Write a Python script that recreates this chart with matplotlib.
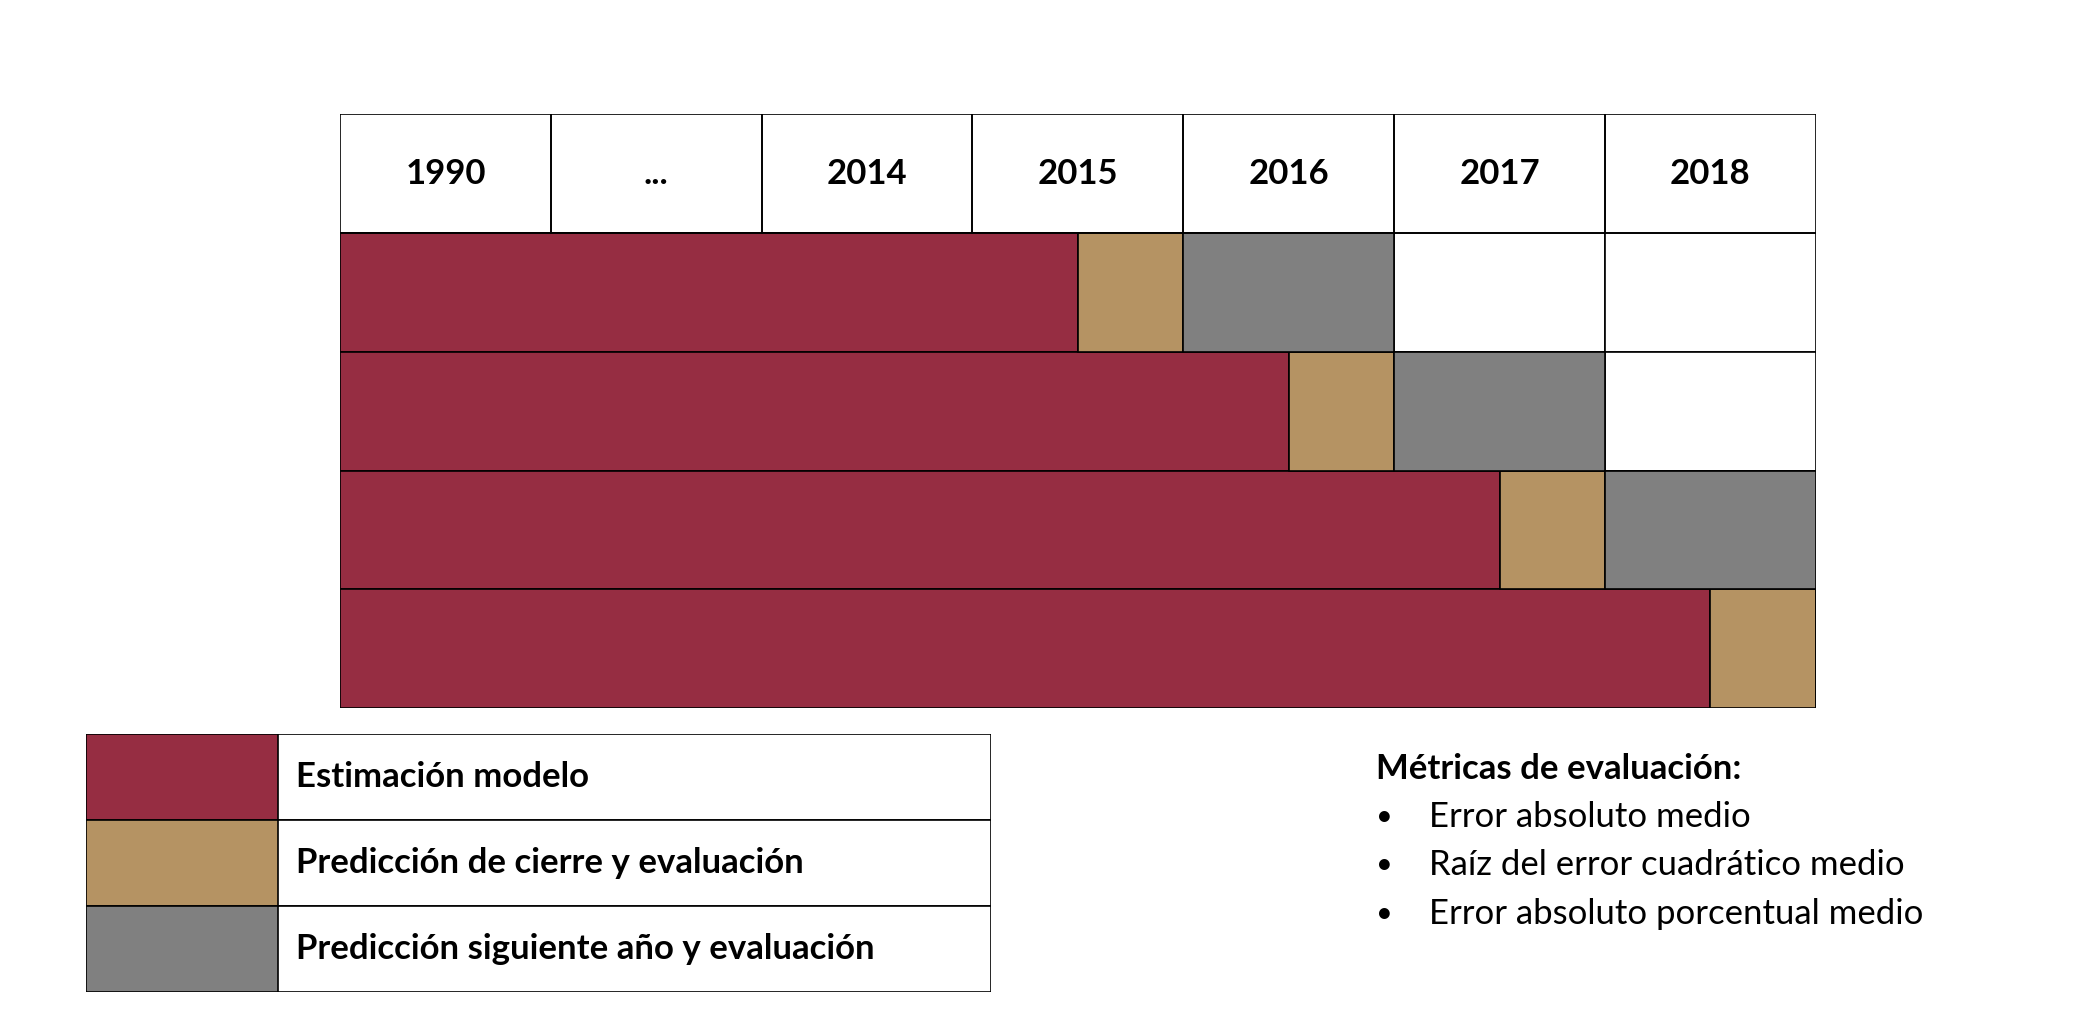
import matplotlib
matplotlib.use("Agg")
import matplotlib.pyplot as plt

plt.rcParams["font.family"] = ["Lato", "DejaVu Sans"]

years = ["1990", "...", "2014", "2015", "2016", "2017", "2018"]
estim_end = [3.5, 4.5, 5.5, 6.5]
closing_len = [0.5, 0.5, 0.5, 0.5]
next_len = [1, 1, 1, 0]
legend_labels = ["Estimación modelo", "Predicción de cierre y evaluación",
                 "Predicción siguiente año y evaluación"]
metrics_title = "Métricas de evaluación:"
metrics = ["Error absoluto medio", "Raíz del error cuadrático medio",
           "Error absoluto porcentual medio"]

RED, TAN, GREY = "#962D42", "#B59363", "#808080"
W, H = 1561, 768  # layout units of the reference
FS = 25

fig = plt.figure(figsize=(20.98, 10.32), dpi=100)


def axes_at(x0, y0, x1, y1):
    return fig.add_axes([x0 / W, 1 - y1 / H, (x1 - x0) / W, (y1 - y0) / H])


# timeline table
ax = axes_at(253, 85, 1351, 527)
ax.set_xlim(0, 7)
ax.set_ylim(5, 0)
ax.axis("off")
n = len(years)
for i, y in enumerate(years):
    ax.text(i + 0.5, 0.5, y, ha="center", va="center", fontsize=FS, fontweight="bold")
rows = [r + 1.5 for r in range(len(estim_end))]
for c in range(n):
    ax.barh(rows, [1] * 4, left=c, height=1, color="white", edgecolor="black", linewidth=1.2)
ax.barh(rows, estim_end, height=1, color=RED, edgecolor="black", linewidth=1.2)
ax.barh(rows, closing_len, left=estim_end, height=1, color=TAN, edgecolor="black", linewidth=1.2)
next_left = [e + c for e, c in zip(estim_end, closing_len)]
ax.barh(rows, next_len, left=next_left, height=1, color=GREY, edgecolor="black", linewidth=1.2)
for c in range(n):
    ax.barh([0.5], [1], left=c, height=1, color="none", edgecolor="black", linewidth=1.2)

# legend table
lg = axes_at(64, 546, 737, 738)
lg.set_xlim(0, 673)
lg.set_ylim(3, 0)
lg.axis("off")
lrows = [0.5, 1.5, 2.5]
lg.barh(lrows, [673] * 3, height=1, color="white", edgecolor="black", linewidth=1.2)
lg.barh(lrows, [143] * 3, height=1, color=[RED, TAN, GREY], edgecolor="black", linewidth=1.2)
for r, lab in zip(lrows, legend_labels):
    lg.text(156, r, lab, va="center", fontsize=FS, fontweight="bold")

# metrics
fig.text(1024 / W, 1 - 572 / H, metrics_title, va="center", fontsize=FS, fontweight="bold")
for k, m in enumerate(metrics):
    yy = 1 - (608 + 36 * k) / H
    fig.text(1024 / W, yy, "•", va="center", fontsize=FS - 4)
    fig.text(1063 / W, yy, m, va="center", fontsize=FS)

fig.savefig("out.png", dpi=100)
